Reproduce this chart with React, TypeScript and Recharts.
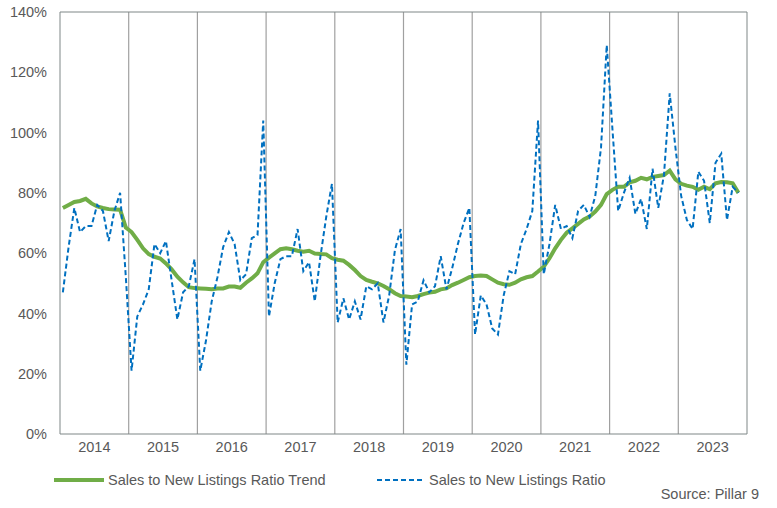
import { LineChart, Line, XAxis, YAxis, ReferenceLine } from 'recharts';

const years = ['2014', '2015', '2016', '2017', '2018', '2019', '2020', '2021', '2022', '2023'];

// monthly, Jan 2014 .. Nov 2023
const ratio = [
  47, 62, 75, 67, 69, 69, 76, 74, 64, 74, 80, 52,
  21, 39, 43, 48, 63, 60, 64, 51, 38, 47, 49, 58,
  21, 31, 44, 52, 62, 67, 63, 51, 53, 65, 66, 104,
  39, 50, 58, 59, 59, 68, 54, 57, 44, 59, 72, 83,
  37, 45, 38, 44, 38, 49, 48, 50, 37, 46, 61, 68,
  23, 43, 44, 51, 47, 49, 59, 48, 55, 63, 70, 75,
  33, 46, 43, 35, 33, 46, 54, 53, 63, 68, 74, 104,
  53, 63, 76, 68, 69, 65, 74, 76, 72, 79, 95, 129,
  101, 74, 80, 85, 73, 78, 68, 88, 75, 86, 113, 95,
  79, 71, 68, 87, 84, 70, 90, 93, 71, 82, 80,
];

const trend = [
  75, 76, 77, 77.3, 78, 76.5, 75.5, 75, 74.6, 74.5, 74.4, 68.5,
  67, 64.4, 61.6, 59.7, 58.8, 58.2, 56.6, 54.6, 52.2, 50.3, 48.7, 48.4,
  48.3, 48.2, 48, 48.3, 48.3, 48.9, 48.9, 48.5, 50.2, 51.6, 53.3, 57,
  58.5, 59.9, 61.3, 61.6, 61.3, 60.8, 60.5, 60.8, 59.9, 59.7, 59.6, 58.3,
  57.8, 57.5, 56.1, 54.4, 52.4, 51.1, 50.5, 50, 49.1, 48, 46.7, 45.8,
  45.6, 45.4, 45.8, 46.4, 46.9, 47.2, 48, 48.3, 49.4, 50.2, 51.1, 52,
  52.4, 52.6, 52.4, 51.3, 50.2, 49.7, 49.5, 50.2, 51.3, 52, 52.4, 53.9,
  55.5, 58.3, 61.6, 64.4, 66.8, 68.2, 69.7, 71.2, 72.1, 73.8, 76, 79.6,
  81, 82, 82, 83.5, 84, 85, 84.5, 85.3, 85.6, 85.9, 87.4, 84.5,
  83, 82.4, 82, 81, 82, 81.2, 83.2, 83.6, 83.5, 83.2, 80,
];

const yTicks = [0, 20, 40, 60, 80, 100, 120, 140];

const data = ratio.map((r, i) => ({ t: i + 0.5, ratio: r, trend: trend[i] }));
const yearMid = years.map((_, k) => k * 12 + 6);
const yearBounds = years.slice(1).map((_, k) => (k + 1) * 12);

const GREEN = '#70AD47';
const BLUE = '#0070C0';
const TEXT = '#595959';
const font = '"Liberation Sans", Arial, sans-serif';
const FS = 14.5;

export default function App() {
  return (
    <div style={{ position: 'fixed', left: 0, top: 0, width: 777, height: 508, background: '#fff', fontFamily: font }}>
      <LineChart width={777} height={508} data={data} margin={{ top: 12, right: 30, bottom: 44, left: 0 }}>
        <XAxis
          dataKey="t"
          type="number"
          domain={[0, 120]}
          ticks={yearMid}
          tickFormatter={(v) => years[Math.floor(v / 12)]}
          tickLine={false}
          axisLine={{ stroke: '#7f8787' }}
          tick={{ fill: TEXT, fontSize: FS, fontFamily: font }}
          height={30}
          interval={0}
        />
        <YAxis
          domain={[0, 140]}
          ticks={yTicks}
          tickFormatter={(v) => `${v}%`}
          tickLine={false}
          tickMargin={7}
          axisLine={{ stroke: '#7f8787' }}
          tick={{ fill: TEXT, fontSize: FS, fontFamily: font }}
          width={60}
          interval={0}
        />
        {yearBounds.map((b) => (
          <ReferenceLine key={b} x={b} stroke="#a0a0a0" strokeWidth={1.2} />
        ))}
        <ReferenceLine y={140} stroke="#7f8787" />
        <ReferenceLine x={120} stroke="#7f8787" />
        <Line type="linear" dataKey="trend" stroke={GREEN} strokeWidth={4} dot={false} isAnimationActive={false} />
        <Line type="linear" dataKey="ratio" stroke={BLUE} strokeWidth={2} strokeDasharray="5 3" dot={false} isAnimationActive={false} />
      </LineChart>

      <div style={{ position: 'absolute', left: 54, top: 472, display: 'flex', alignItems: 'center', fontSize: FS, color: TEXT }}>
        <svg width={50} height={6} style={{ marginRight: 4 }}>
          <line x1={0} y1={3} x2={50} y2={3} stroke={GREEN} strokeWidth={4} />
        </svg>
        <span>Sales to New Listings Ratio Trend</span>
      </div>
      <div style={{ position: 'absolute', left: 377, top: 472, display: 'flex', alignItems: 'center', fontSize: FS, color: TEXT }}>
        <svg width={48} height={6} style={{ marginRight: 4 }}>
          <line x1={0} y1={3} x2={48} y2={3} stroke={BLUE} strokeWidth={2} strokeDasharray="5 3" />
        </svg>
        <span>Sales to New Listings Ratio</span>
      </div>
      <div style={{ position: 'absolute', right: 18, top: 486, fontSize: FS, color: TEXT }}>Source: Pillar 9</div>
    </div>
  );
}
